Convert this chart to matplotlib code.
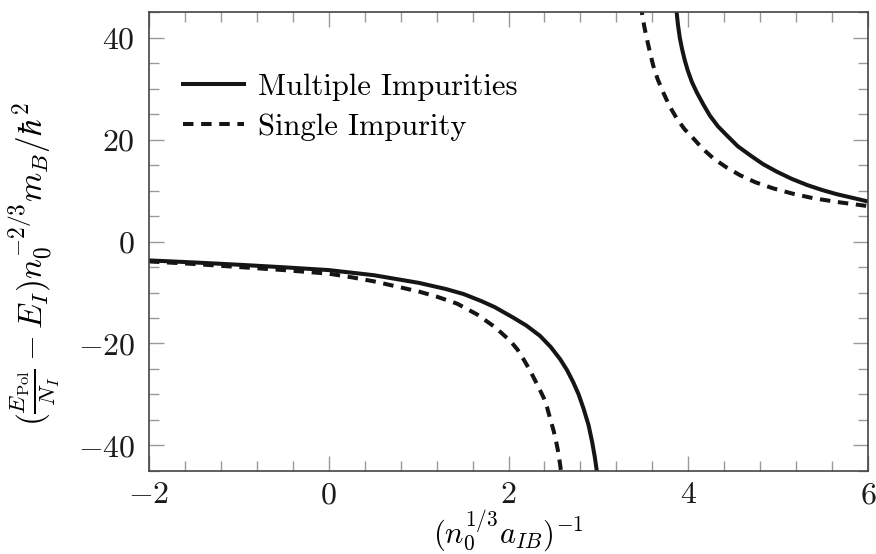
import matplotlib
matplotlib.use('Agg')
import matplotlib.pyplot as plt
from matplotlib.ticker import MultipleLocator

plt.rcParams['font.family'] = 'serif'
plt.rcParams['font.serif'] = ['cmr10', 'DejaVu Serif']
plt.rcParams['mathtext.fontset'] = 'cm'
plt.rcParams['axes.formatter.use_mathtext'] = True

# values
multi_low_x = [-2.0, -1.5, -1.0, -0.5, 0.0, 0.5, 1.0, 1.3, 1.5, 1.7, 1.85, 2.05, 2.2,
               2.35, 2.47, 2.575, 2.65, 2.72, 2.78, 2.835, 2.89, 2.93, 2.96, 2.99]
multi_low_y = [-3.7, -4.1, -4.55, -5.05, -5.6, -6.6, -8.1, -9.3, -10.3, -11.7, -12.9,
               -14.9, -16.5, -18.5, -20.7, -23.1, -25.2, -27.6, -30.0, -32.8, -36.0,
               -39.3, -42.3, -46.0]

single_low_x = [-2.0, -1.5, -1.0, -0.5, 0.0, 0.25, 0.5, 0.75, 1.0, 1.2, 1.43, 1.65, 1.85,
                2.02, 2.1, 2.167, 2.23, 2.28, 2.34, 2.39, 2.43, 2.464, 2.5, 2.527, 2.555,
                2.575, 2.59]
single_low_y = [-3.9, -4.4, -5.0, -5.6, -6.3, -7.0, -7.8, -8.8, -9.8, -10.8, -12.2,
                -14.3, -16.8, -19.5, -21.2, -23.1, -25.0, -26.7, -28.8, -30.6, -32.6,
                -34.8, -37.0, -39.0, -41.5, -43.9, -46.0]

multi_up_x = [3.86, 3.87, 3.885, 3.905, 3.93, 3.96, 3.995, 4.04, 4.096, 4.17, 4.24, 4.33,
              4.43, 4.55, 4.69, 4.83, 4.985, 5.15, 5.32, 5.49, 5.65, 5.82, 6.0]
multi_up_y = [46.5, 45.0, 42.5, 40.0, 37.8, 35.6, 33.5, 31.3, 29.2, 26.8, 24.7, 22.6,
              20.8, 18.7, 16.9, 15.2, 13.7, 12.3, 11.1, 10.1, 9.3, 8.6, 7.85]

single_up_x = [3.475, 3.484, 3.51, 3.54, 3.575, 3.61, 3.66, 3.72, 3.79, 3.873, 3.96, 4.058,
               4.16, 4.28, 4.42, 4.577, 4.75, 4.95, 5.16, 5.39, 5.68, 6.0]
single_up_y = [46.5, 44.9, 42.2, 39.7, 37.0, 34.5, 31.8, 29.3, 26.6, 24.1, 22.0, 20.2,
               18.2, 16.3, 14.6, 13.0, 11.6, 10.4, 9.4, 8.5, 7.7, 6.95]

xticks = [-2, 0, 2, 4, 6]
yticks = [-40, -20, 0, 20, 40]

fig = plt.figure(figsize=(8.76, 5.54), dpi=100)
ax = fig.add_axes([0.170, 0.150, 0.821, 0.828])

lc = '#151515'
ax.plot(multi_low_x, multi_low_y, color=lc, lw=2.9, label='Multiple Impurities',
        solid_joinstyle='round')
ax.plot(multi_up_x, multi_up_y, color=lc, lw=2.9, solid_joinstyle='round')
ax.plot(single_low_x, single_low_y, color=lc, lw=2.9, dashes=[2.6, 1.9],
        label='Single Impurity')
ax.plot(single_up_x, single_up_y, color=lc, lw=2.9, dashes=[2.6, 1.9])

ax.set_xlim(-2, 6)
ax.set_ylim(-45, 45)
ax.set_xticks(xticks)
ax.set_yticks(yticks)
ax.xaxis.set_minor_locator(MultipleLocator(0.4))
ax.yaxis.set_minor_locator(MultipleLocator(5))

ax.tick_params(which='both', direction='in', top=True, right=True,
               color='#9a9a9a', width=1.0, labelsize=23, labelcolor='#1a1a1a')
ax.tick_params(which='major', length=11, pad=10)
ax.tick_params(axis='x', which='major', pad=8)
ax.tick_params(which='minor', length=7)

for s in ax.spines.values():
    s.set_color('#444444')
    s.set_linewidth(1.2)

ax.set_xlabel(r'$(n_0^{1/3}a_{IB})^{-1}$', fontsize=22)
ax.xaxis.set_label_coords(0.5, -0.1795, transform=ax.transAxes)
ax.xaxis.label.set_va('bottom')
ax.set_ylabel(r'$(\frac{E_{\mathrm{Pol}}}{N_I}-E_I)n_0^{-2/3}m_B/\hbar^2$',
              fontsize=24)
ax.yaxis.set_label_coords(-0.16, 0.45)
ax.yaxis.label.set_va('center')

ax.legend(loc='upper left', bbox_to_anchor=(0.026, 0.9), frameon=False,
          fontsize=22, handlelength=2.0, handletextpad=0.45, labelspacing=0.42,
          borderpad=0)

plt.savefig('out.png', dpi=100)
